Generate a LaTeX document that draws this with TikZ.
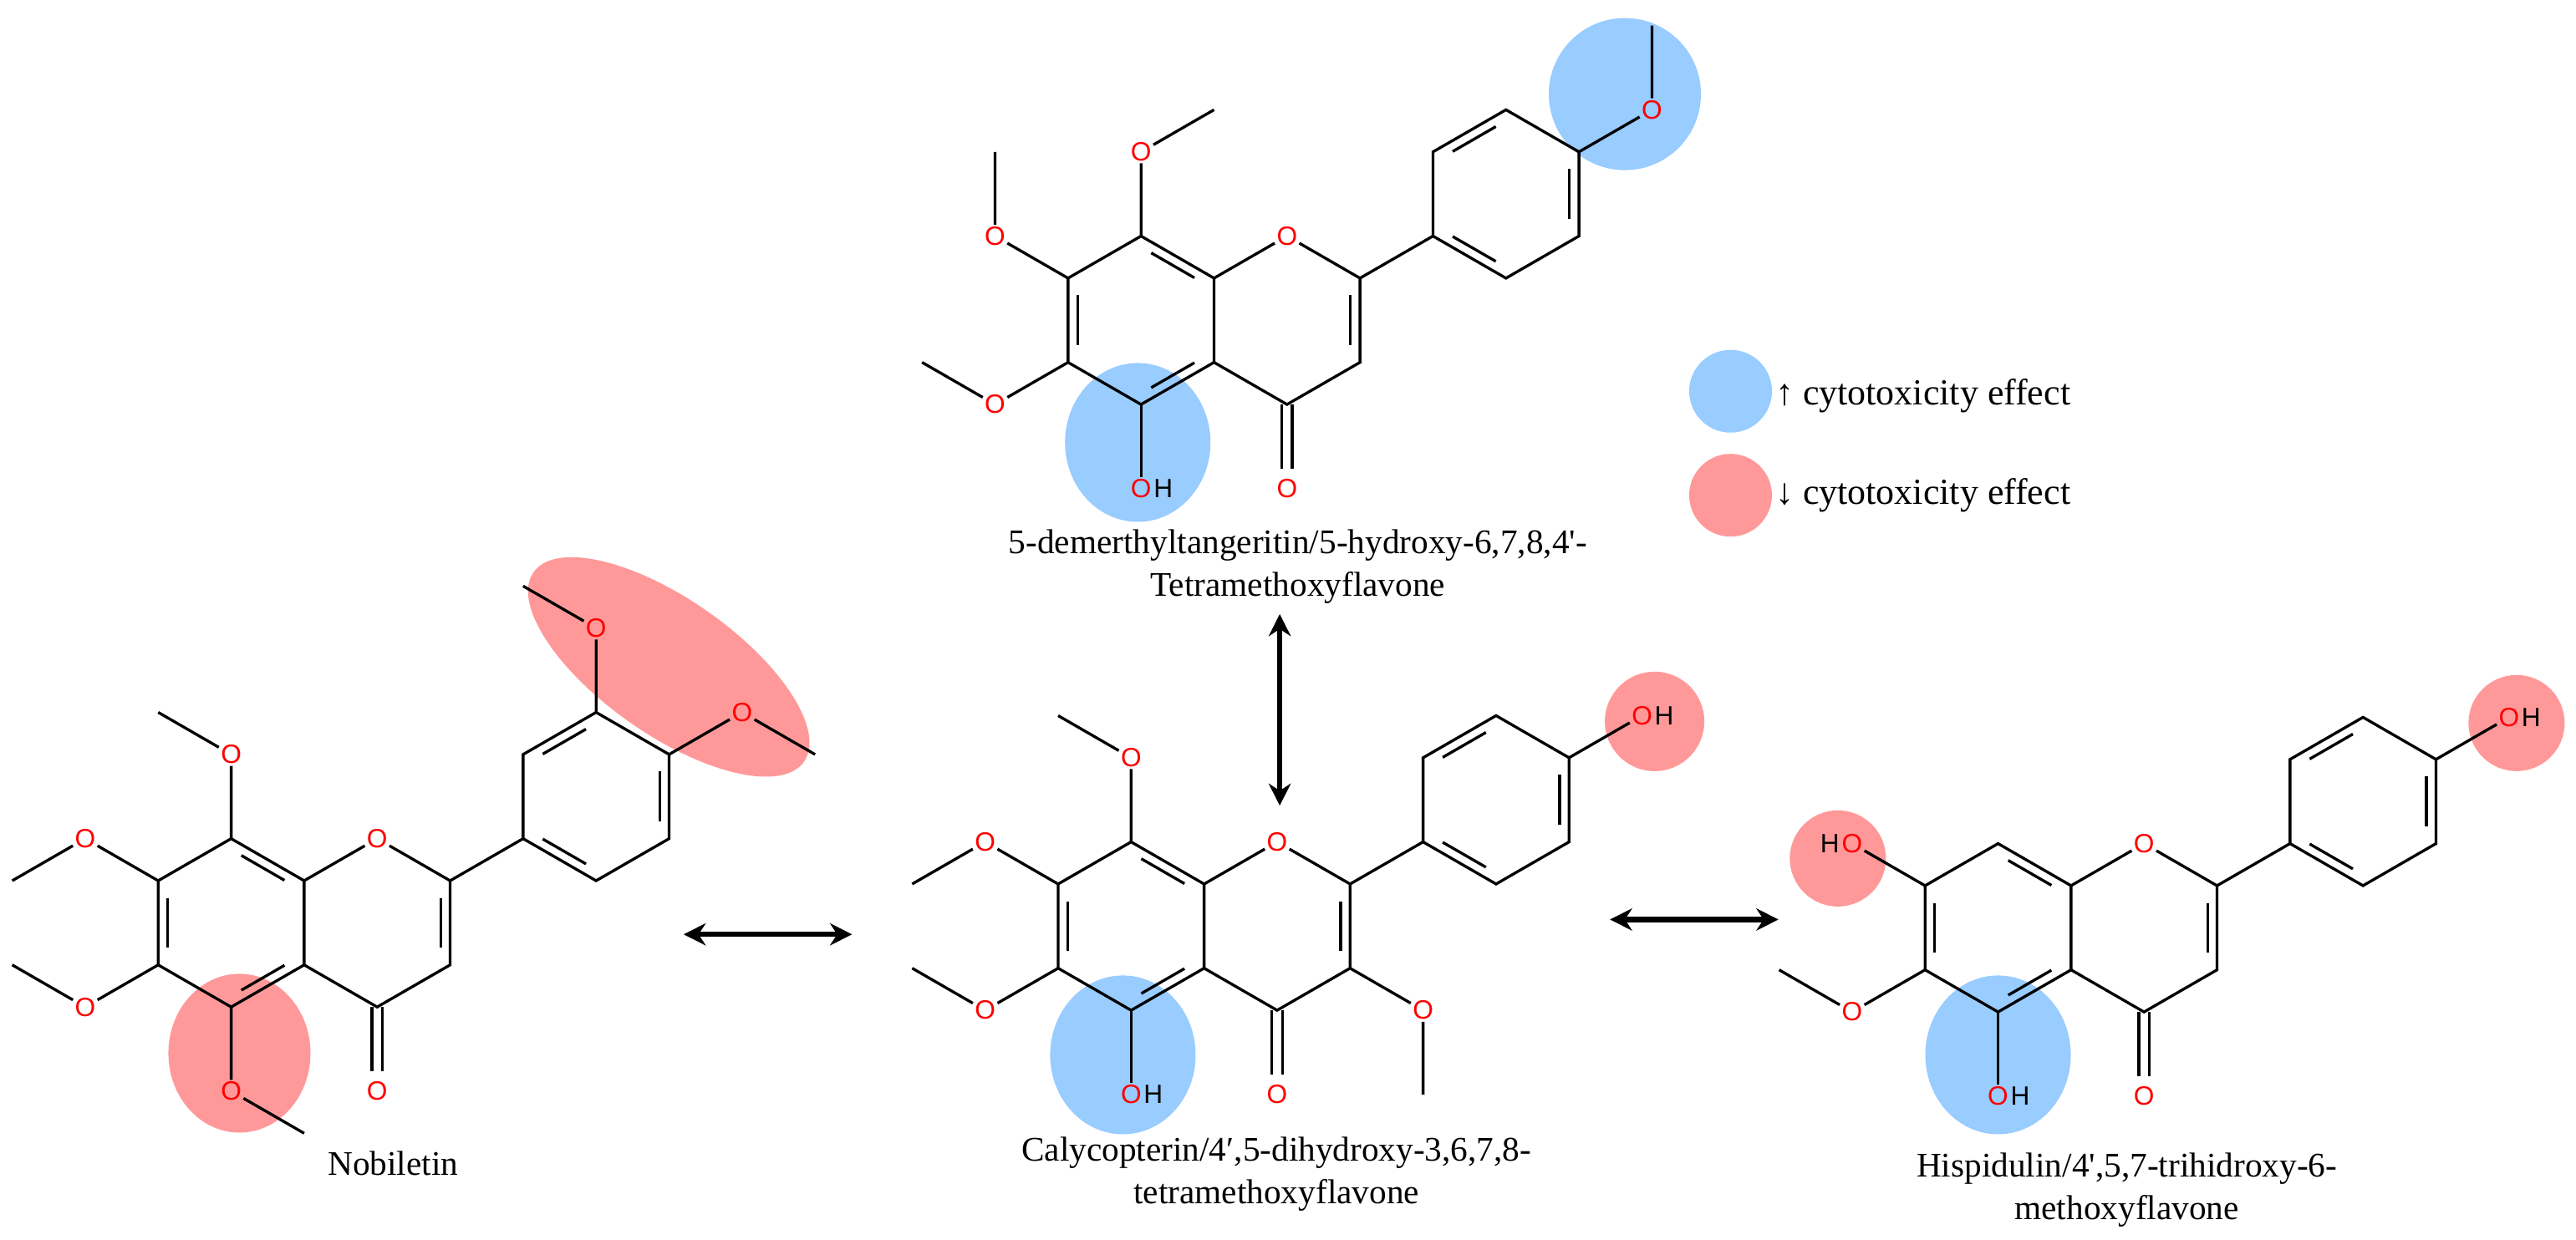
\documentclass[tikz,border=0pt]{standalone}
\usepackage{fontspec}
\setmainfont{Liberation Serif}
\newfontfamily\asf{Liberation Sans}
\usetikzlibrary{calc,arrows.meta}
\definecolor{hlblue}{RGB}{153,204,255}
\definecolor{hlred}{RGB}{255,153,153}
\tikzset{
 bond/.style={line width=1.9pt,black},
 atom/.style={font=\asf\fontsize{18}{18}\selectfont,text=red,inner sep=1.2pt},
 hatom/.style={font=\asf\fontsize{18}{18}\selectfont,text=black,inner sep=0pt},
 captxt/.style={font=\fontsize{23.5}{29}\selectfont,align=center},
 legtxt/.style={font=\fontsize{25}{28}\selectfont,anchor=west},
 bigarrow/.style={line width=3.6pt,{Stealth[length=15pt,width=15pt]}-{Stealth[length=15pt,width=15pt]}},
}
\newcommand\dbl[3]{\draw[bond] ($(#1)!0.16!(#2)!0.13!(#3)$) -- ($(#2)!0.16!(#1)!0.13!(#3)$);}
\newcommand\flcore[1]{%
 \coordinate (#1c8) at (0,0);
 \coordinate (#1c8a) at (44.2,25.5);
 \coordinate (#1c4a) at (44.2,76.5);
 \coordinate (#1c5) at (0,102);
 \coordinate (#1c6) at (-44.2,76.5);
 \coordinate (#1c7) at (-44.2,25.5);
 \node[atom] (#1o1) at (88.4,0) {O};
 \coordinate (#1c2) at (132.6,25.5);
 \coordinate (#1c3) at (132.6,76.5);
 \coordinate (#1c4) at (88.4,102);
 \node[atom] (#1o4) at (88.4,153) {O};
 \coordinate (#1b1) at (176.8,0);
 \coordinate (#1b2) at (176.8,-51);
 \coordinate (#1b3) at (221,-76.5);
 \coordinate (#1b4) at (265.2,-51);
 \coordinate (#1b5) at (265.2,0);
 \coordinate (#1b6) at (221,25.5);
 \coordinate (#1ca) at (0,51);
 \coordinate (#1cc) at (88.4,51);
 \coordinate (#1cb) at (221,-25.5);
 \draw[bond] (#1c8)--(#1c8a)--(#1c4a)--(#1c5)--(#1c6)--(#1c7)--cycle;
 \draw[bond] (#1c8a)--(#1o1)--(#1c2)--(#1c3)--(#1c4)--(#1c4a);
 \draw[bond] (#1c2)--(#1b1);
 \draw[bond] (#1b1)--(#1b2)--(#1b3)--(#1b4)--(#1b5)--(#1b6)--cycle;
 \dbl{#1c8}{#1c8a}{#1ca}\dbl{#1c7}{#1c6}{#1ca}\dbl{#1c5}{#1c4a}{#1ca}
 \dbl{#1c2}{#1c3}{#1cc}
 \dbl{#1b2}{#1b3}{#1cb}\dbl{#1b4}{#1b5}{#1cb}\dbl{#1b6}{#1b1}{#1cb}
 \draw[bond] (85.2,102)--(85.2,141);
 \draw[bond] (91.6,102)--(91.6,141);
}
\begin{document}
\begin{tikzpicture}[x=0.03951cm,y=-0.03951cm]
\useasboundingbox (0,0) rectangle (1560,751);
\fill[white] (0,0) rectangle (1560,751);
% ---------- top molecule ----------
\begin{scope}[shift={(691,143)}]
 \fill[hlblue] (-2,125) ellipse [x radius=1.74cm, y radius=1.90cm];
 \fill[hlblue] (293,-86) circle [radius=1.82cm];
 \flcore{t}
 \node[atom] (to8) at (0,-51) {O};
 \draw[bond] (tc8)--(to8)--(44.2,-76.5);
 \node[atom] (to7) at (-88.4,0) {O};
 \draw[bond] (tc7)--(to7)--(-88.4,-51);
 \node[atom] (to6) at (-88.4,102) {O};
 \draw[bond] (tc6)--(to6)--(-132.6,76.5);
 \node[atom] (to5) at (0,153) {O};
 \node[hatom,anchor=west] at (to5.east) {H};
 \draw[bond] (tc5)--(to5);
 \node[atom] (to4p) at (309.4,-76.5) {O};
 \draw[bond] (tb4)--(to4p)--(309.4,-127.5);
\end{scope}
\node[captxt] (tcap) at (786,343) {5-demerthyltangeritin/5-hydroxy-6,7,8,4\textquotesingle-\\Tetramethoxyflavone};
% ---------- middle molecule ----------
\begin{scope}[shift={(685,510)}]
 \fill[hlblue] (-5,129) ellipse [x radius=1.74cm, y radius=1.90cm];
 \fill[hlred] (317,-73) circle [radius=1.19cm];
 \flcore{m}
 \node[atom] (mo8) at (0,-51) {O};
 \draw[bond] (mc8)--(mo8)--(-44.2,-76.5);
 \node[atom] (mo7) at (-88.4,0) {O};
 \draw[bond] (mc7)--(mo7)--(-132.6,25.5);
 \node[atom] (mo6) at (-88.4,102) {O};
 \draw[bond] (mc6)--(mo6)--(-132.6,76.5);
 \node[atom] (mo5) at (0,153) {O};
 \node[hatom,anchor=west] at (mo5.east) {H};
 \draw[bond] (mc5)--(mo5);
 \node[atom] (mo3) at (176.8,102) {O};
 \draw[bond] (mc3)--(mo3)--(176.8,153);
 \node[atom] (mo4p) at (309.4,-76.5) {O};
 \node[hatom,anchor=west] at (mo4p.east) {H};
 \draw[bond] (mb4)--(mo4p);
\end{scope}
\node[captxt] (mcap) at (773,711) {Calycopterin/4′,5-dihydroxy-3,6,7,8-\\tetramethoxyflavone};
% ---------- Nobiletin ----------
\begin{scope}[shift={(140,508)}]
 \fill[hlred] (5,130) ellipse [x radius=1.70cm, y radius=1.90cm];
 \fill[hlred] (265,-104) ellipse [x radius=3.95cm, y radius=1.62cm, rotate=-35];
 \flcore{n}
 \node[atom] (no8) at (0,-51) {O};
 \draw[bond] (nc8)--(no8)--(-44.2,-76.5);
 \node[atom] (no7) at (-88.4,0) {O};
 \draw[bond] (nc7)--(no7)--(-132.6,25.5);
 \node[atom] (no6) at (-88.4,102) {O};
 \draw[bond] (nc6)--(no6)--(-132.6,76.5);
 \node[atom] (no5) at (0,153) {O};
 \draw[bond] (nc5)--(no5)--(44.2,178.5);
 \node[atom] (no3p) at (221,-127.5) {O};
 \draw[bond] (nb3)--(no3p)--(176.8,-153);
 \node[atom] (no4p) at (309.4,-76.5) {O};
 \draw[bond] (nb4)--(no4p)--(353.6,-51);
\end{scope}
\node[captxt] (ncap) at (238,705) {Nobiletin};
% ---------- Hispidulin ----------
\begin{scope}[shift={(1210,511)}]
 \fill[hlblue] (0,128) ellipse [x radius=1.74cm, y radius=1.90cm];
 \fill[hlred] (-97,9) circle [radius=1.15cm];
 \fill[hlred] (314,-73) circle [radius=1.15cm];
 \flcore{h}
 \node[atom] (ho7) at (-88.4,0) {O};
 \node[hatom,anchor=east] at (ho7.west) {H};
 \draw[bond] (hc7)--(ho7);
 \node[atom] (ho6) at (-88.4,102) {O};
 \draw[bond] (hc6)--(ho6)--(-132.6,76.5);
 \node[atom] (ho5) at (0,153) {O};
 \node[hatom,anchor=west] at (ho5.east) {H};
 \draw[bond] (hc5)--(ho5);
 \node[atom] (ho4p) at (309.4,-76.5) {O};
 \node[hatom,anchor=west] at (ho4p.east) {H};
 \draw[bond] (hb4)--(ho4p);
\end{scope}
\node[captxt] (hcap) at (1288,721) {Hispidulin/4\textquotesingle,5,7-trihidroxy-6-\\methoxyflavone};
% ---------- arrows ----------
\coordinate (a1) at (414,566); \coordinate (a2) at (516,566);
\coordinate (b1) at (975,557); \coordinate (b2) at (1077,557);
\coordinate (c1) at (775,372); \coordinate (c2) at (775,488);
\draw[bigarrow] (a1)--(a2);
\draw[bigarrow] (b1)--(b2);
\draw[bigarrow] (c1)--(c2);
% ---------- legend ----------
\fill[hlblue] (1048,237) circle [radius=0.99cm];
\fill[hlred] (1048,300) circle [radius=0.99cm];
\node[legtxt] (l1) at (1072,240) {↑ cytotoxicity effect};
\node[legtxt] (l2) at (1072,300) {↓ cytotoxicity effect};
\end{tikzpicture}
\end{document}
